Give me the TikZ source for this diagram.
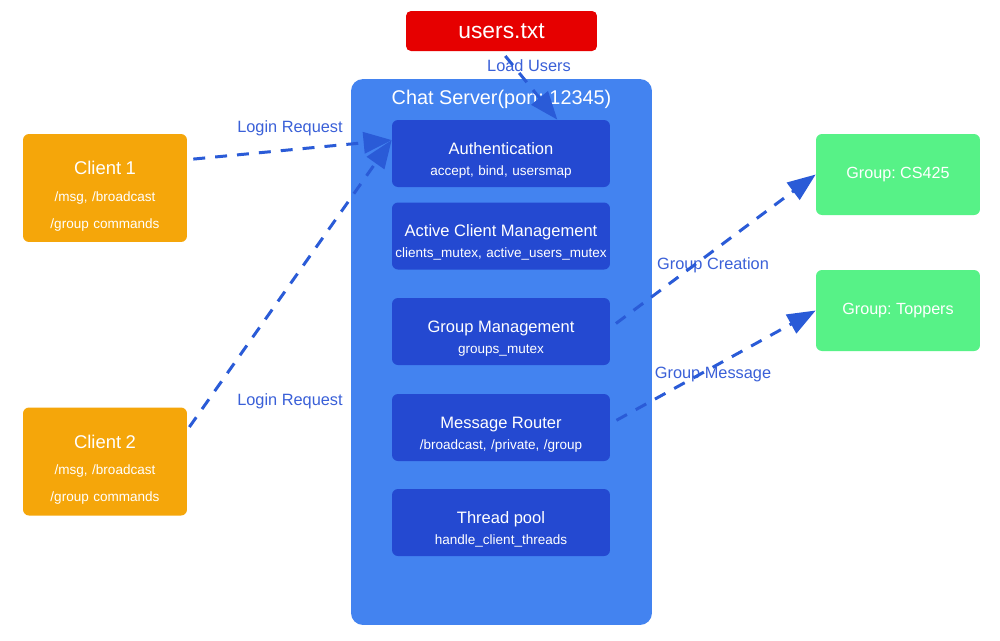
\documentclass[tikz,border=0pt]{standalone}
\usepackage{fontspec}
\setmainfont{Liberation Sans}
\usetikzlibrary{arrows.meta}
\frenchspacing

\definecolor{filered}{HTML}{E60000}
\definecolor{serverblue}{HTML}{4383F0}
\definecolor{modblue}{HTML}{2449D1}
\definecolor{clientorange}{HTML}{F5A60A}
\definecolor{groupgreen}{HTML}{57F287}
\definecolor{linkblue}{HTML}{2A5BD7}
\definecolor{textblue}{HTML}{3A60D8}

\begin{document}
\begin{tikzpicture}[x=0.02cm,y=-0.02cm,
        module/.style={fill=modblue,rounded corners=3.4pt,minimum width=4.36cm,minimum height=1.34cm,
            inner xsep=0pt,text width=4.36cm,align=center,text=white,text height=14.6pt,text depth=14pt,
            font=\fontsize{7.7}{12}\selectfont},
        client/.style={fill=clientorange,rounded corners=3.4pt,minimum width=3.28cm,minimum height=2.16cm,
            inner xsep=0pt,text width=3.28cm,align=center,text=white,text height=17.2pt,text depth=32.5pt,
            font=\fontsize{7.7}{15.3}\selectfont},
        group/.style={fill=groupgreen,rounded corners=3.4pt,minimum width=3.28cm,minimum height=1.62cm,
            text=white,font=\fontsize{9.2}{11}\selectfont},
        flow/.style={draw=linkblue,line width=1.7pt,dash pattern=on 6.8pt off 5.7pt,
            -{Triangle[length=16pt,width=12pt]}},
        flowlabel/.style={text=textblue,font=\fontsize{9.3}{11}\selectfont}]
    \useasboundingbox[fill=white] (0,0) rectangle (1000,640);

    % file and server
    \node[fill=filered,rounded corners=2.8pt,minimum width=3.82cm,minimum height=0.8cm,
        text=white,font=\fontsize{13}{15}\selectfont] (users) at (501.5,31) {users.txt};
    \node[fill=serverblue,rounded corners=6.8pt,minimum width=6.02cm,minimum height=10.92cm] (srv) at (501.5,352) {};
    \node[text=white,font=\fontsize{11.3}{13}\selectfont] (srvtitle) at (501.5,99) {Chat Server(port: 12345)};

    % server modules
    \node[module] (auth) at (501,153.5) {{\fontsize{9.4}{12}\selectfont Authentication}\\accept, bind, usersmap};
    \node[module] (acm) at (501,236) {{\fontsize{9.4}{12}\selectfont Active Client Management}\\clients\_mutex, active\_users\_mutex};
    \node[module] (gm) at (501,331.5) {{\fontsize{9.4}{12}\selectfont Group Management}\\groups\_mutex};
    \node[module] (mr) at (501,427.5) {{\fontsize{9.4}{12}\selectfont Message Router}\\/broadcast, /private, /group};
    \node[module] (tp) at (501,522.5) {{\fontsize{9.4}{12}\selectfont Thread pool}\\handle\_client\_threads};

    % clients and groups
    \node[client] (c1) at (105,188) {{\fontsize{10.5}{15.3}\selectfont Client 1}\\/msg, /broadcast\\/group commands};
    \node[client] (c2) at (105,461.5) {{\fontsize{10.5}{15.3}\selectfont Client 2}\\/msg, /broadcast\\/group commands};
    \node[group] (g1) at (898,174.5) {Group: CS425};
    \node[group] (g2) at (898,310.5) {Group: Toppers};

    % labels
    \node[flowlabel] (lload) at (529,66) {Load Users};
    \node[flowlabel] (llogin1) at (290,128) {Login Request};
    \node[flowlabel] (llogin2) at (290,401) {Login Request};
    \node[flowlabel] (lcreate) at (713,265) {Group Creation};
    \node[flowlabel] (lmsg) at (713,374) {Group Message};

    % connectors
    \draw[flow,shorten <=3.4pt] (users.south) -- (auth.31);
    \draw[flow,shorten <=3.4pt] (c1.19) -- (auth.173);
    \draw[flow,shorten <=2pt] (c2.21) -- (auth.173);
    \draw[flow,shorten <=4pt] (gm.2) -- (g1.west);
    \draw[flow,shorten <=4pt] (mr.2) -- (g2.west);
\end{tikzpicture}
\end{document}
